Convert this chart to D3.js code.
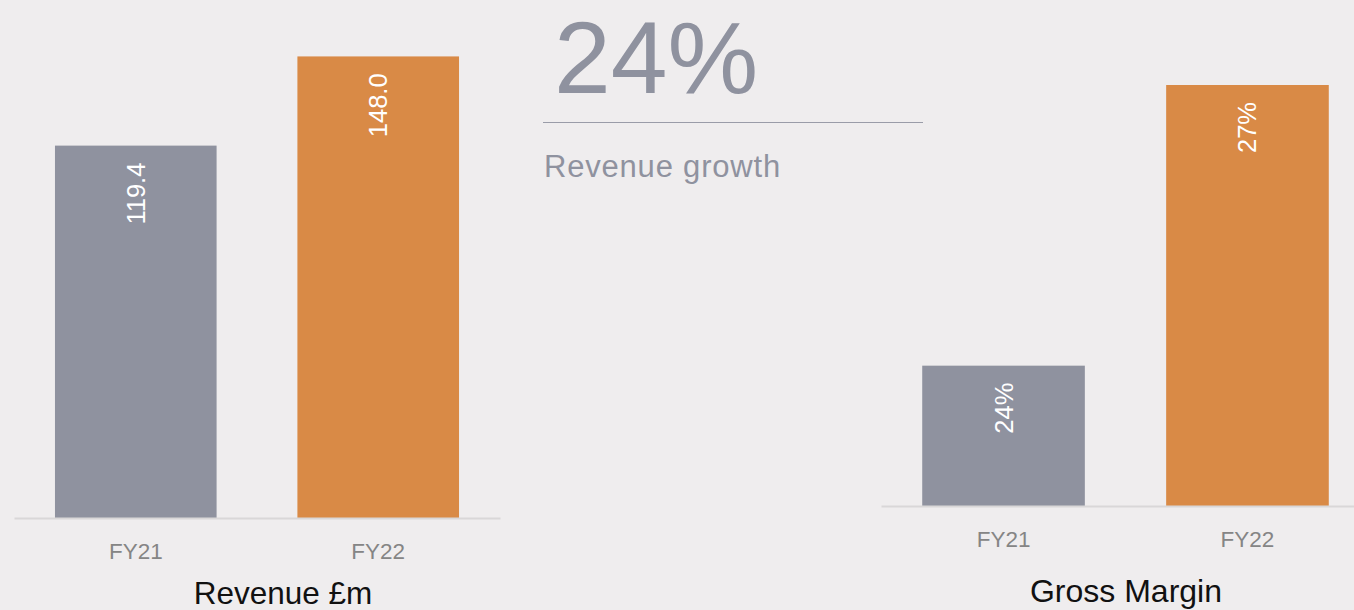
<!DOCTYPE html>
<html>
<head>
<meta charset="utf-8">
<script src="https://cdn.jsdelivr.net/npm/d3@7"></script>
<style>
  html, body { margin: 0; padding: 0; background: #efedee; }
  svg { display: block; }
  text { font-family: "Liberation Sans", Arial, sans-serif; }
</style>
</head>
<body>
<svg id="chart" width="1354" height="610"></svg>
<script>
// Data
const categories = ["FY21", "FY22"];
const revenueValues = [119.4, 148.0];
const revenueLabels = ["119.4", "148.0"];
const marginValues = [24, 27];
const marginLabels = ["24%", "27%"];
const growthValue = "24%";
const growthLabel = "Revenue growth";
const revenueTitle = "Revenue £m";
const marginTitle = "Gross Margin";

const barColors = ["#8f929f", "#d98a46"];

const svg = d3.select("#chart");

function drawPanel(opts) {
  const g = svg.append("g");
  const x = d3.scaleBand().domain(categories).range(opts.xRange)
    .paddingInner(1/3).paddingOuter(0.169);
  const y = d3.scaleLinear().domain(opts.yDomain).range(opts.yRange);
  const base = opts.yRange[0];

  g.selectAll("rect.bar").data(opts.values).enter().append("rect")
    .attr("class", "bar")
    .attr("x", (d, i) => x(categories[i]))
    .attr("width", x.bandwidth())
    .attr("y", d => y(d))
    .attr("height", d => base - y(d))
    .attr("fill", (d, i) => barColors[i]);

  g.selectAll("text.val").data(opts.values).enter().append("text")
    .attr("class", "val")
    .attr("transform", (d, i) => `translate(${x(categories[i]) + x.bandwidth() / 2},${y(d) + 17}) rotate(-90)`)
    .attr("text-anchor", "end")
    .attr("dominant-baseline", "central")
    .attr("fill", "#ffffff")
    .style("font-size", "25.5px")
    .text((d, i) => opts.labels[i]);

  const axis = g.append("g")
    .attr("transform", `translate(0,${base})`)
    .call(d3.axisBottom(x).tickSize(0).tickPadding(25).tickSizeOuter(0));
  axis.select(".domain").attr("stroke", "#d9d7d8").attr("stroke-width", 2);
  axis.selectAll("text")
    .attr("fill", "#858585")
    .style("font-size", "22.5px")
    .style("font-family", "'Liberation Sans', Arial, sans-serif");

  g.append("text")
    .attr("x", opts.titleX)
    .attr("y", opts.titleY)
    .attr("text-anchor", "middle")
    .attr("fill", "#111111")
    .style("font-size", opts.titleSize + "px")
    .text(opts.title);
}

drawPanel({
  values: revenueValues, labels: revenueLabels,
  xRange: [14, 500], yDomain: [0, 160], yRange: [518, 19],
  title: revenueTitle, titleX: 283, titleY: 604, titleSize: 31.5
});

drawPanel({
  values: marginValues, labels: marginLabels,
  xRange: [881, 1370], yDomain: [22.5, 27], yRange: [506, 85],
  title: marginTitle, titleX: 1126, titleY: 602, titleSize: 32
});

// Middle KPI
const mid = svg.append("g");
mid.append("text")
  .attr("x", 554).attr("y", 93)
  .attr("fill", "#8f929f")
  .style("font-size", "102px")
  .text(growthValue);
mid.append("line")
  .attr("x1", 543).attr("x2", 923)
  .attr("y1", 122.5).attr("y2", 122.5)
  .attr("stroke", "#9a9ca8").attr("stroke-width", 1.2);
mid.append("text")
  .attr("x", 544).attr("y", 177)
  .attr("fill", "#8f929f")
  .style("font-size", "31px")
  .style("letter-spacing", "0.8px")
  .text(growthLabel);
</script>
</body>
</html>
